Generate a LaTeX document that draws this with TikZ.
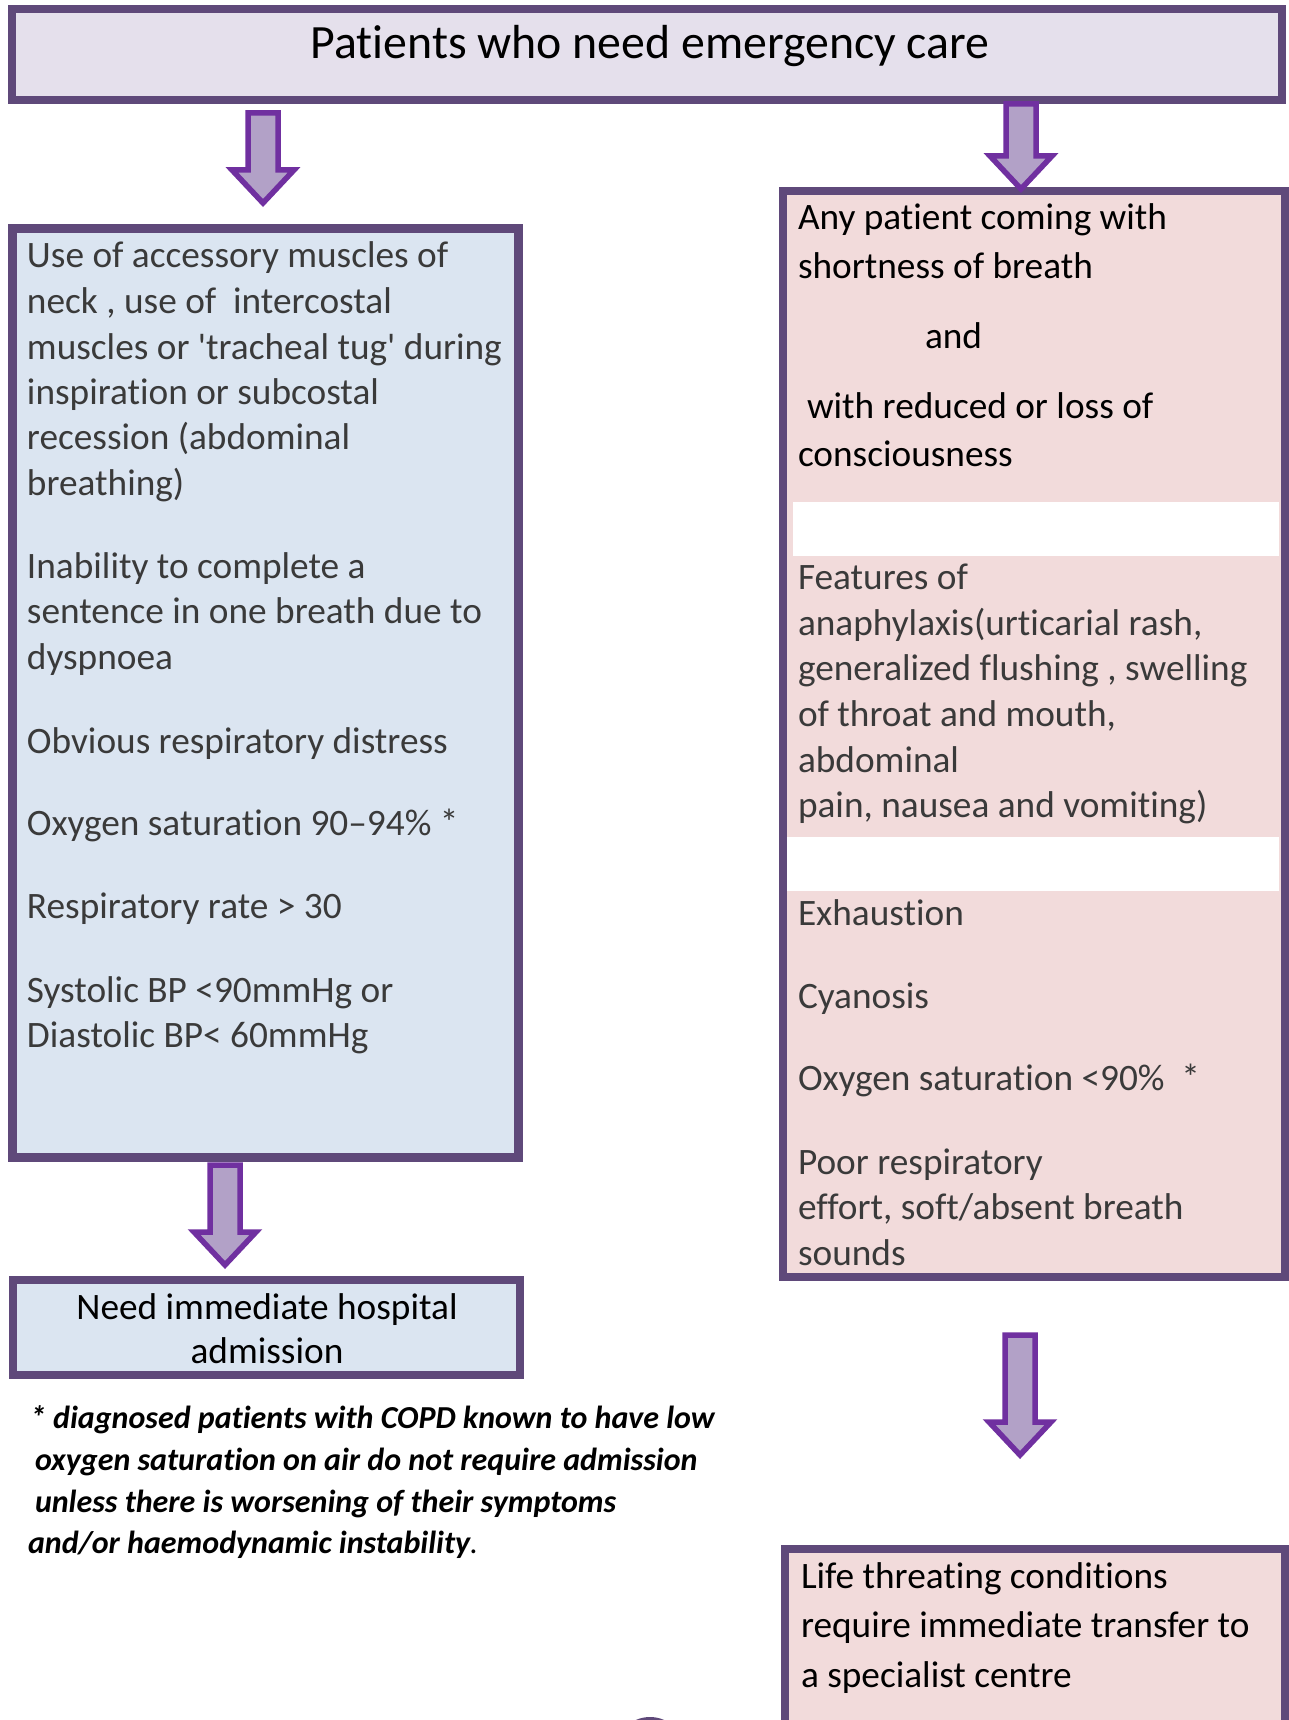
\documentclass[tikz,border=0pt]{standalone}
\usepackage{fontspec}
\setmainfont{Carlito}[Ligatures=NoCommon]
\usetikzlibrary{calc}

\definecolor{framecol}{HTML}{5F497A}
\definecolor{topfill}{HTML}{E5E0EC}
\definecolor{bluefill}{HTML}{DBE5F1}
\definecolor{pinkfill}{HTML}{F2DBDB}
\definecolor{arrowfill}{HTML}{B2A1C7}
\definecolor{arrowline}{HTML}{7030A0}
\definecolor{darktext}{HTML}{3A3A3A}

\tikzset{
  panel/.style={draw=framecol, line width=8.5pt, rectangle, anchor=north west,
                inner sep=0pt, outer sep=0pt},
  bodytext/.style={font=\fontsize{37.3}{44}\selectfont, anchor=base west,
                   inner sep=0pt, outer sep=0pt},
  titletext/.style={font=\fontsize{47.8}{56}\selectfont, anchor=base,
                    inner sep=0pt, outer sep=0pt},
  notetext/.style={font=\fontsize{32}{38}\selectfont\bfseries\itshape,
                   anchor=base west, inner sep=0pt, outer sep=0pt},
  fatarrow/.style={draw=arrowline, fill=arrowfill, line width=5.5pt, line join=miter}
}

% block arrow from the middle of its top edge (#1) to its tip (#2)
\newcommand\blockarrow[2]{%
  \draw[fatarrow] let \p1=(#1), \p2=(#2) in
    (\x1-15pt,\y1) -- (\x1+15pt,\y1) -- (\x1+15pt,\y2+33pt) -- (\x1+31pt,\y2+33pt)
    -- (\x1,\y2) -- (\x1-31pt,\y2+33pt) -- (\x1-15pt,\y2+33pt) -- cycle;}

\begin{document}
\begin{tikzpicture}[x=1pt,y=-1pt]
\useasboundingbox (0,0) rectangle (1289,1720);
\clip (0,0) rectangle (1289,1720);

% ---- boxes ----
\node[panel, fill=topfill, minimum width=1270pt, minimum height=91pt] (top) at (12,9) {};
\node[panel, fill=bluefill, minimum width=506pt, minimum height=929pt] (left) at (12.5,228.5) {};
\node[panel, fill=pinkfill, minimum width=502pt, minimum height=1086pt] (right) at (783,191) {};
\node[panel, fill=bluefill, minimum width=507pt, minimum height=95pt] (admit) at (13,1280) {};
\node[panel, fill=pinkfill, minimum width=500pt, minimum height=200pt] (transfer) at (785,1549) {};

% white bands separating the groups in the right panel
\fill[white] (793,502) rectangle (1279,556);
\fill[white] (787,837) rectangle (1279,891);

% ---- title ----
\node[titletext] (title) at (650,59) {Patients who need emergency care};

% ---- left panel ----
\begin{scope}[every node/.style={bodytext, text=darktext}]
\foreach \yy/\tt [count=\i] in {
  267/{Use of accessory muscles of},
  313/{neck , use of\ \ intercostal},
  359/{muscles or \textquotesingle tracheal tug\textquotesingle\ during},
  404/{inspiration or subcostal},
  449/{recession (abdominal},
  495/{breathing)},
  578/{Inability to complete a},
  623/{sentence in one breath due to},
  669/{dyspnoea},
  753/{Obvious respiratory distress},
  835/{Oxygen saturation 90--94\% *},
  918/{Respiratory rate > 30},
  1002/{Systolic BP <90mmHg or},
  1047/{Diastolic BP< 60mmHg}}
  \node (l\i) at (27,\yy) {\tt};
\end{scope}

% ---- right panel ----
\begin{scope}[every node/.style={bodytext, text=black}]
\node (r1) at (798,230) {Any patient coming with};
\node (r2) at (798,278) {shortness of breath};
\node (r3) at (925,348) {and};
\node (r4) at (807,418) {with reduced or loss of};
\node (r5) at (798,466) {consciousness};
\end{scope}
\begin{scope}[every node/.style={bodytext, text=darktext}]
\foreach \yy/\tt [count=\i] in {
  589/{Features of},
  635/{anaphylaxis(urticarial rash,},
  680/{generalized flushing , swelling},
  726/{of throat and mouth,},
  772/{abdominal},
  817/{pain, nausea and vomiting)},
  925/{Exhaustion},
  1008/{Cyanosis},
  1090/{Oxygen saturation <90\%\ \ *},
  1174/{Poor respiratory},
  1219/{effort, soft/absent breath},
  1265/{sounds}}
  \node (f\i) at (798,\yy) {\tt};
\end{scope}

% ---- outcome boxes ----
\node[bodytext, anchor=base] (admit1) at (267,1319) {Need immediate hospital};
\node[bodytext, anchor=base] (admit2) at (267,1363) {admission};

\begin{scope}[every node/.style={bodytext, text=black}]
\node (t1) at (801,1588) {Life threating conditions};
\node (t2) at (801,1637) {require immediate transfer to};
\node (t3) at (801,1687) {a specialist centre};
\end{scope}

% ---- footnote ----
\node[notetext] (n1) at (30,1428) {* diagnosed patients with COPD known to have low};
\node[notetext] (n2) at (35,1470) {oxygen saturation on air do not require admission};
\node[notetext] (n3) at (35,1512) {unless there is worsening of their symptoms};
\node[notetext] (n4) at (28,1553) {and/or haemodynamic instability{\mdseries.}};

% ---- arrows ----
\coordinate (a1s) at (263,113);   \coordinate (a1e) at (263,203);
\coordinate (a2s) at (1021,104);  \coordinate (a2e) at (1021,189);
\coordinate (a3s) at (225,1165);  \coordinate (a3e) at (225,1265);
\coordinate (a4s) at (1020,1335); \coordinate (a4e) at (1020,1455);
\blockarrow{a1s}{a1e}
\blockarrow{a2s}{a2e}
\blockarrow{a3s}{a3e}
\blockarrow{a4s}{a4e}

% edge of a round marker just below the page
\draw[framecol, line width=4pt] (650,1752) circle[radius=33];
\end{tikzpicture}
\end{document}
